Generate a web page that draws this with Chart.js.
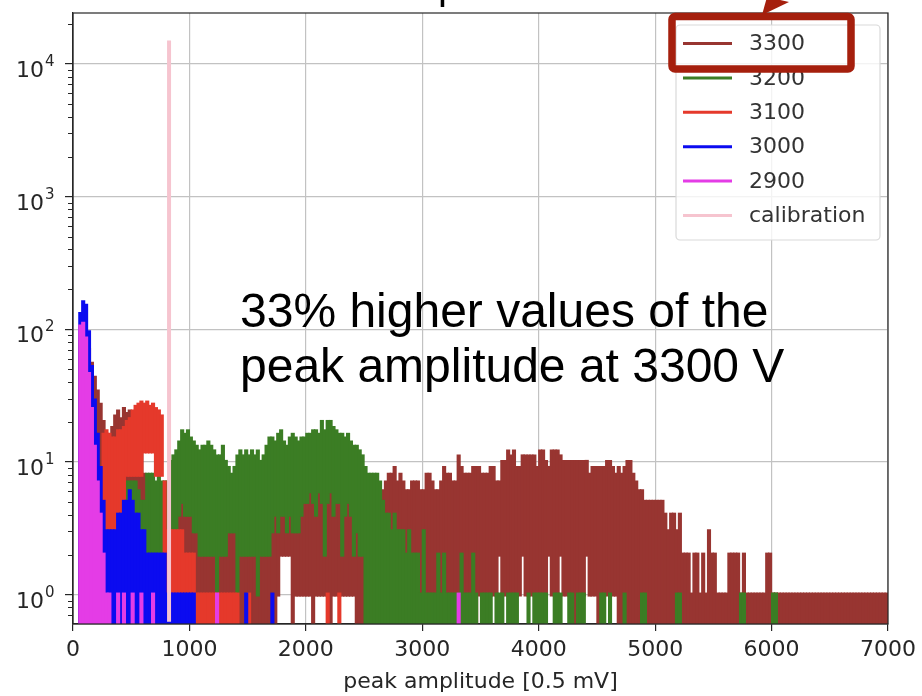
<!DOCTYPE html>
<html>
<head>
<meta charset="utf-8">
<script src="https://cdn.jsdelivr.net/npm/chart.js@4.4.1/dist/chart.umd.min.js"></script>
<style>
  html, body { margin: 0; padding: 0; background: #fff; }
  #wrap { width: 922px; height: 696px; }
</style>
</head>
<body>
<div id="wrap"><canvas id="chart" width="922" height="696"></canvas></div>
<script>
// histogram bins are 25 units wide: bin i covers [25*i, 25*i + 25)
// hi = highest count drawn in the bin, lo = lowest (0 = down to the axis)
const BIN_WIDTH = 25;

const seriesLabels = ['3300', '3200', '3100', '3000', '2900', 'calibration'];
const seriesColors = ['#983531', '#3b7d24', '#e5392b', '#0b0bf0', '#e43ce6', '#f6c4cf'];

const xTicks = [0, 1000, 2000, 3000, 4000, 5000, 6000, 7000];
const yMajorTicks = [1, 10, 100, 1000, 10000];
const yExponents = ['0', '1', '2', '3', '4'];

const hi3300 = [
  0, 0, 80, 90, 85, 70, 55, 43, 34, 27,
  20, 16, 15, 18, 22, 24, 21, 25, 23, 24,
  20, 16, 12, 12, 8, 6, 6, 6, 6, 5,
  5, 5, 5, 5, 5, 5, 5, 5, 5, 5,
  5, 5, 5, 5, 5, 5, 5, 5, 5, 5,
  5, 5, 5, 5, 5, 5, 5, 5, 5, 5,
  5, 5, 5, 5, 5, 5, 5, 5, 5, 5,
  5, 5, 5, 5, 5, 5, 5, 5, 7, 7,
  7, 7, 7, 7, 7, 7, 7, 7, 7, 7,
  7, 7, 7, 7, 7, 7, 7, 7, 7, 7,
  6, 6, 6, 6, 6, 6, 6, 7, 8, 8,
  9, 7, 8, 7, 6, 6, 7, 7, 7, 6,
  6, 8, 8, 7, 6, 6, 7, 9, 8, 8,
  7, 7, 11, 9, 8, 8, 8, 9, 9, 9,
  8, 8, 8, 9, 9, 7, 7, 10, 10, 12,
  11, 12, 9, 9, 11, 11, 11, 11, 11, 9,
  12, 12, 10, 9, 12, 12, 12, 11, 10, 10,
  10, 10, 10, 10, 10, 10, 10, 8, 9, 9,
  9, 9, 9, 10, 10, 9, 8, 9, 8, 9,
  10, 10, 8, 7, 6, 6, 5, 5, 5, 5,
  5, 5, 5, 4, 3, 4, 4, 3, 4, 2,
  2, 2, 1, 2, 2, 1, 2, 1, 3, 2,
  2, 1, 1, 1, 1, 2, 2, 2, 2, 1,
  2, 1, 1, 1, 1, 1, 1, 1, 2, 2,
  1, 1, 1, 1, 1, 1, 1, 1, 1, 1,
  1, 1, 1, 1, 1, 1, 1, 1, 1, 1,
  1, 1, 1, 1, 1, 1, 1, 1, 1, 1,
  1, 1, 1, 1, 1, 1, 1, 1, 1, 1
];
const lo3300 = [
  0, 0, 0, 0, 0, 0, 0, 0, 0, 0,
  0, 0, 0, 0, 0, 0, 0, 0, 0, 0,
  0, 0, 0, 0, 0, 0, 0, 0, 0, 0,
  0, 0, 0, 0, 0, 0, 0, 0, 0, 0,
  0, 0, 0, 0, 0, 0, 0, 0, 0, 0,
  0, 0, 0, 0, 0, 0, 0, 0, 0, 0,
  0, 0, 0, 0, 0, 0, 0, 0, 0, 0,
  1, 2, 2, 2, 2, 0, 1, 1, 1, 1,
  1, 1, 0, 1, 1, 1, 1, 1, 0, 1,
  1, 1, 1, 1, 1, 1, 1, 0, 0, 0,
  0, 0, 0, 0, 0, 0, 0, 0, 0, 0,
  0, 0, 0, 0, 0, 0, 0, 0, 0, 0,
  0, 0, 0, 0, 0, 0, 0, 0, 0, 0,
  0, 0, 0, 0, 0, 0, 0, 0, 0, 1,
  1, 1, 1, 1, 1, 1, 2, 1, 1, 1,
  1, 1, 1, 1, 2, 1, 1, 1, 1, 1,
  1, 1, 1, 2, 1, 1, 1, 2, 1, 1,
  1, 0, 0, 1, 1, 1, 2, 1, 1, 1,
  0, 0, 1, 1, 1, 1, 1, 0, 0, 0
];

const hi3200 = [
  0, 0, 0, 0, 0, 0, 0, 0, 0, 0,
  0, 0, 4, 4, 4, 4, 4, 4, 7, 7,
  7, 7, 6, 5, 5, 8, 8, 8, 7, 8,
  7, 7, 7, 10, 11, 12, 14, 17, 16, 17,
  15, 14, 13, 12, 13, 13, 14, 13, 12, 11,
  11, 13, 10, 9, 8, 9, 11, 12, 11, 12,
  11, 12, 11, 12, 10, 11, 13, 15, 15, 14,
  16, 17, 14, 13, 15, 16, 15, 14, 15, 15,
  16, 16, 17, 17, 16, 20, 17, 20, 20, 18,
  17, 16, 16, 15, 16, 14, 13, 13, 12, 11,
  9, 8, 8, 8, 8, 7, 5, 4, 4, 3,
  4, 3, 3, 3, 2, 3, 2, 2, 2, 1,
  3, 1, 1, 1, 1, 2, 1, 2, 1, 1,
  1, 1, 1, 2, 1, 1, 1, 2, 1, 0,
  1, 1, 1, 1, 0, 1, 1, 1, 0, 1,
  1, 1, 1, 0, 0, 0, 1, 0, 1, 1,
  1, 1, 1, 0, 0, 1, 1, 1, 0, 0,
  1, 1, 0, 1, 1, 1, 0, 0, 0, 0,
  0, 1, 1, 0, 1, 0, 0, 0, 0, 1,
  0, 0, 0, 0, 0, 1, 1, 0, 0, 0,
  0, 0, 0, 0, 0, 0, 0, 1, 1, 0,
  0, 0, 0, 0, 0, 0, 0, 0, 0, 0,
  0, 0, 0, 0, 0, 0, 0, 0, 0, 1,
  1, 0, 0, 0, 0, 0, 0, 0, 0, 0,
  1, 1
];
const lo3200 = [
  0, 0, 0, 0, 0, 0, 0, 0, 0, 0,
  0, 0, 0, 0, 0, 0, 0, 0, 0, 0,
  0, 0, 0, 0, 0, 0, 0, 0, 0, 0,
  0, 0, 0, 0, 3, 3, 4, 5, 4, 4,
  4, 3, 3, 2, 2, 2, 2, 2, 2, 0,
  2, 2, 2, 3, 3, 3, 1, 2, 2, 2,
  2, 2, 2, 1, 2, 2, 2, 2, 3, 4,
  3, 4, 4, 3, 4, 3, 3, 3, 4, 5,
  5, 6, 5, 4, 6, 5, 2, 5, 6, 4,
  5, 5, 2, 4, 5, 4, 2, 3, 2, 2
];

const hi3100 = [
  0, 0, 0, 0, 0, 0, 0, 0, 0, 0,
  16, 17, 16, 15, 15, 17, 17, 18, 20, 21,
  24, 26, 27, 28, 27, 28, 26, 27, 25, 24,
  22, 7, 3, 3, 3, 3, 3, 3, 2, 2,
  2, 2, 1, 1, 1, 1, 1, 1, 1, 1,
  1, 1, 1, 1, 1, 1, 1, 0, 0, 0,
  1, 0, 0, 0, 0, 0, 0, 0, 0, 0,
  0, 0, 0, 0, 0, 0, 0, 0, 0, 0,
  0, 0, 0, 0, 0, 0, 0, 1, 0, 0,
  0, 1
];
const lo3100 = [
  0, 0, 0, 0, 0, 0, 0, 0, 0, 0,
  0, 0, 0, 0, 0, 0, 0, 0, 8, 8,
  8, 8, 8, 8, 12, 12, 12, 12, 8, 8,
  8
];

const hi3000 = [
  0, 0, 130, 160, 150, 95, 52, 29, 16, 9,
  5, 3, 3, 3, 3, 4, 4, 5, 5, 6,
  5, 4, 4, 3, 3, 2, 2, 2, 2, 2,
  2, 2, 1, 1, 1, 1, 1, 1, 1, 1,
  1, 1, 0, 0, 0, 0, 0, 0, 0, 0,
  0, 0, 0, 0, 0, 0, 0, 0, 0, 1,
  0, 0, 0, 0, 0, 0, 0, 0, 1
];

const hi2900 = [
  0, 0, 105, 110, 85, 46, 25, 13, 7, 4,
  2, 1, 1, 0, 0, 1, 0, 1, 0, 0,
  1, 0, 0, 1, 0, 0, 0, 1, 0, 0,
  0, 0, 0, 0, 0, 0, 0, 0, 0, 0,
  0, 0, 0, 0, 0, 0, 0, 0, 0, 1,
  0, 0, 0, 0, 0, 0, 0, 0, 0, 0,
  0, 0, 0, 0, 0, 0, 0, 0, 0, 0,
  0, 0, 0, 0, 0, 0, 0, 0, 0, 0,
  0, 0, 0, 0, 0, 0, 0, 0, 0, 0,
  0, 0, 0, 0, 0, 0, 0, 0, 0, 0,
  0, 0, 0, 0, 0, 0, 0, 0, 0, 0,
  0, 0, 0, 0, 0, 0, 0, 0, 0, 0,
  0, 0, 0, 0, 0, 0, 0, 0, 0, 0,
  0, 0, 1
];

const calibrationX = 825;
const calibrationPeak = 15000;

const Y_MIN = 0.623, Y_MAX = 24200;
const TEXT_COLOR = '#262626';
const AXIS_COLOR = '#262626';
const GRID_COLOR = '#c2c2c2';
// the step outline is about 1.5px thick, stretch each span a little for it
const STROKE = 1.025;

function binData(hi, lo) {
  const out = [];
  hi.forEach(function(h, i) {
    if (!h) return;
    const l = lo ? (lo[i] || 0) : 0;
    const x = BIN_WIDTH * i + BIN_WIDTH / 2;
    out.push({ x: x, y: l > 0 ? [l / STROKE, h * STROKE] : h * STROKE });
  });
  return out;
}

const histSeries = [
  { hi: hi3300, lo: lo3300 },
  { hi: hi3200, lo: lo3200 },
  { hi: hi3100, lo: lo3100 },
  { hi: hi3000, lo: null },
  { hi: hi2900, lo: null }
];

// first in legend is drawn first (lowest), calibration ends on top
const datasets = histSeries.map(function(s, k) {
  return {
    type: 'bar',
    label: seriesLabels[k],
    data: binData(s.hi, s.lo),
    backgroundColor: seriesColors[k],
    borderWidth: 0,
    inflateAmount: 0.6,
    grouped: false,
    barPercentage: 1,
    categoryPercentage: 1,
    order: -k
  };
});
datasets.push({
  type: 'line',
  label: seriesLabels[5],
  data: [{ x: calibrationX, y: Y_MIN }, { x: calibrationX, y: calibrationPeak }],
  borderColor: seriesColors[5],
  borderWidth: 4,
  borderCapStyle: 'butt',
  pointRadius: 0,
  order: -5
});

const decorPlugin = {
  id: 'decor',
  afterDraw: function(chart) {
    const ctx = chart.ctx;
    const area = chart.chartArea;
    const ys = chart.scales.y;
    ctx.save();

    // frame
    ctx.strokeStyle = AXIS_COLOR;
    ctx.lineWidth = 1.2;
    ctx.strokeRect(area.left, area.top, area.right - area.left, area.bottom - area.top);

    // minor ticks of the log axis
    ctx.lineWidth = 1;
    for (let e = -1; e <= 4; e++) {
      for (let m = 2; m <= 9; m++) {
        const v = m * Math.pow(10, e);
        if (v < Y_MIN || v > Y_MAX) continue;
        const py = Math.round(ys.getPixelForValue(v)) + 0.5;
        ctx.beginPath();
        ctx.moveTo(area.left - 5, py);
        ctx.lineTo(area.left, py);
        ctx.stroke();
      }
    }

    // y tick labels 10^n
    ctx.fillStyle = TEXT_COLOR;
    ctx.textBaseline = 'alphabetic';
    yMajorTicks.forEach(function(v, k) {
      const py = ys.getPixelForValue(v);
      ctx.font = '22px "DejaVu Sans"';
      ctx.textAlign = 'right';
      ctx.fillText('10', 44, py + 13);
      ctx.font = '15px "DejaVu Sans"';
      ctx.textAlign = 'left';
      ctx.fillText(yExponents[k], 45, py + 2);
    });

    // legend
    ctx.beginPath();
    ctx.roundRect(676, 25, 204, 215, 4);
    ctx.fillStyle = 'rgba(255,255,255,0.8)';
    ctx.fill();
    ctx.strokeStyle = '#d9d9d9';
    ctx.lineWidth = 1.2;
    ctx.stroke();
    seriesLabels.forEach(function(label, k) {
      const cy = 43.5 + k * 34.4;
      ctx.strokeStyle = seriesColors[k];
      ctx.lineWidth = 3;
      ctx.beginPath();
      ctx.moveTo(683, cy);
      ctx.lineTo(732, cy);
      ctx.stroke();
      ctx.fillStyle = '#333';
      ctx.font = '22px "DejaVu Sans"';
      ctx.textAlign = 'left';
      ctx.textBaseline = 'middle';
      ctx.fillText(label, 749, cy + 1);
    });

    // annotation
    ctx.fillStyle = '#000';
    ctx.font = '48px "Liberation Sans"';
    ctx.textAlign = 'left';
    ctx.textBaseline = 'alphabetic';
    ctx.fillText('33% higher values of the', 240, 327);
    ctx.fillText('peak amplitude at 3300 V', 240, 382);

    // highlight box around the 3300 entry, with the arrow coming in from above
    ctx.strokeStyle = '#a51f0d';
    ctx.lineWidth = 7.5;
    ctx.beginPath();
    ctx.roundRect(672, 16.5, 179, 52.5, 3);
    ctx.stroke();
    ctx.fillStyle = '#a51f0d';
    ctx.beginPath();
    ctx.moveTo(762, 15);
    ctx.lineTo(767, -3);
    ctx.lineTo(789, 2);
    ctx.closePath();
    ctx.fill();

    // bottom of the slide title, cut by the crop
    ctx.fillStyle = '#000';
    ctx.font = '40px "Liberation Sans"';
    ctx.fillText('p', 438, -1);

    ctx.restore();
  }
};

new Chart(document.getElementById('chart'), {
  type: 'bar',
  data: { datasets: datasets },
  options: {
    responsive: false,
    animation: false,
    devicePixelRatio: 1,
    events: [],
    layout: { padding: { top: 13, right: 33, left: 0, bottom: 0 } },
    plugins: { legend: { display: false }, tooltip: { enabled: false } },
    scales: {
      x: {
        type: 'linear',
        min: 0,
        max: 7000,
        offset: false,
        afterBuildTicks: function(s) { s.ticks = xTicks.map(function(v) { return { value: v }; }); },
        grid: { offset: false, color: GRID_COLOR, lineWidth: 1.2, tickColor: AXIS_COLOR, tickLength: 7, tickWidth: 1.2 },
        border: { color: AXIS_COLOR, width: 1.2 },
        ticks: {
          padding: 6,
          color: TEXT_COLOR,
          maxRotation: 0,
          autoSkip: false,
          font: { family: 'DejaVu Sans', size: 22 },
          callback: function(v) { return String(v); }
        },
        title: {
          display: true,
          text: 'peak amplitude [0.5 mV]',
          color: TEXT_COLOR,
          font: { family: 'DejaVu Sans', size: 22 },
          padding: { top: 0, bottom: 1 }
        },
        afterFit: function(s) { s.height = 72; }
      },
      y: {
        type: 'logarithmic',
        min: Y_MIN,
        max: Y_MAX,
        afterBuildTicks: function(s) { s.ticks = yMajorTicks.map(function(v) { return { value: v, major: true }; }); },
        grid: { color: GRID_COLOR, lineWidth: 1.2, tickColor: AXIS_COLOR, tickLength: 8, tickWidth: 1.2 },
        border: { color: AXIS_COLOR, width: 1.2 },
        ticks: { display: false },
        afterFit: function(s) { s.width = 73; }
      }
    }
  },
  plugins: [decorPlugin]
});
</script>
</body>
</html>
